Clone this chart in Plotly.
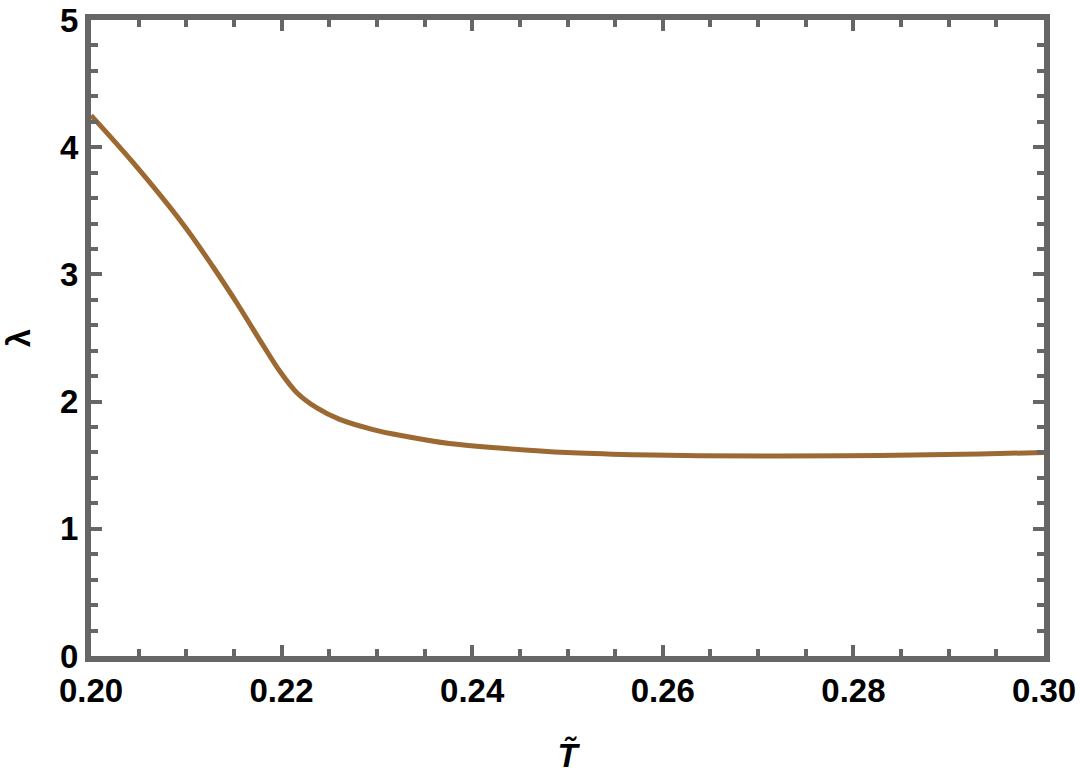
import plotly.graph_objects as go

# values
t_tilde = [0.2000, 0.2044, 0.2096, 0.2128, 0.2156, 0.2170, 0.2185, 0.2198,
           0.2216, 0.2237, 0.2261, 0.2296, 0.2324, 0.2376, 0.2429, 0.2499,
           0.2568, 0.2638, 0.2722, 0.2827, 0.2932, 0.3000]
lam = [4.25, 3.88, 3.40, 3.06, 2.74, 2.57, 2.39, 2.24,
       2.07, 1.95, 1.86, 1.78, 1.735, 1.67, 1.635, 1.60,
       1.583, 1.575, 1.572, 1.577, 1.588, 1.600]

x_ticks = [0.20, 0.22, 0.24, 0.26, 0.28, 0.30]
x_ticklabels = ["0.20", "0.22", "0.24", "0.26", "0.28", "0.30"]
y_ticks = [0, 1, 2, 3, 4, 5]

frame = "#666666"
font = dict(family="Liberation Sans, Arial", size=33, color="black", weight="bold")

fig = go.Figure()
fig.add_trace(go.Scatter(
    x=t_tilde, y=lam, mode="lines",
    line=dict(color="#9c6932", width=5, shape="spline", smoothing=1.0),
    hoverinfo="skip", showlegend=False,
))

axis_common = dict(
    showgrid=False, zeroline=False, automargin=False,
    showline=True, linecolor=frame, linewidth=6, mirror="allticks",
    ticks="inside", ticklen=11, tickwidth=4, tickcolor=frame,
    tickfont=font, ticklabeloverflow="allow",
)

fig.update_xaxes(
    range=[0.2, 0.3], tickvals=x_ticks, ticktext=x_ticklabels,
    minor=dict(dtick=0.005, tick0=0.2, ticks="inside", ticklen=7, tickwidth=4, tickcolor=frame),
    title=dict(text="<b><i>T\u0303</i></b>", font=font, standoff=38),
    ticklabelstandoff=0,
    **axis_common,
)
fig.update_yaxes(
    range=[0, 5], tickvals=y_ticks,
    minor=dict(dtick=0.2, tick0=0, ticks="inside", ticklen=7, tickwidth=4, tickcolor=frame),
    title=dict(text="<b>\u03bb</b>", font=font, standoff=34),
    ticklabelstandoff=0,
    **axis_common,
)

fig.update_layout(
    width=1080, height=780,
    margin=dict(l=91, r=36, t=20, b=124),
    plot_bgcolor="white", paper_bgcolor="white",
)

# drop the default page margin so the figure fills the window exactly
fig.write_html(
    "out.html",
    config={"displayModeBar": False, "staticPlot": True},
    post_script="document.body.style.margin='0';document.body.style.overflow='hidden';",
)
